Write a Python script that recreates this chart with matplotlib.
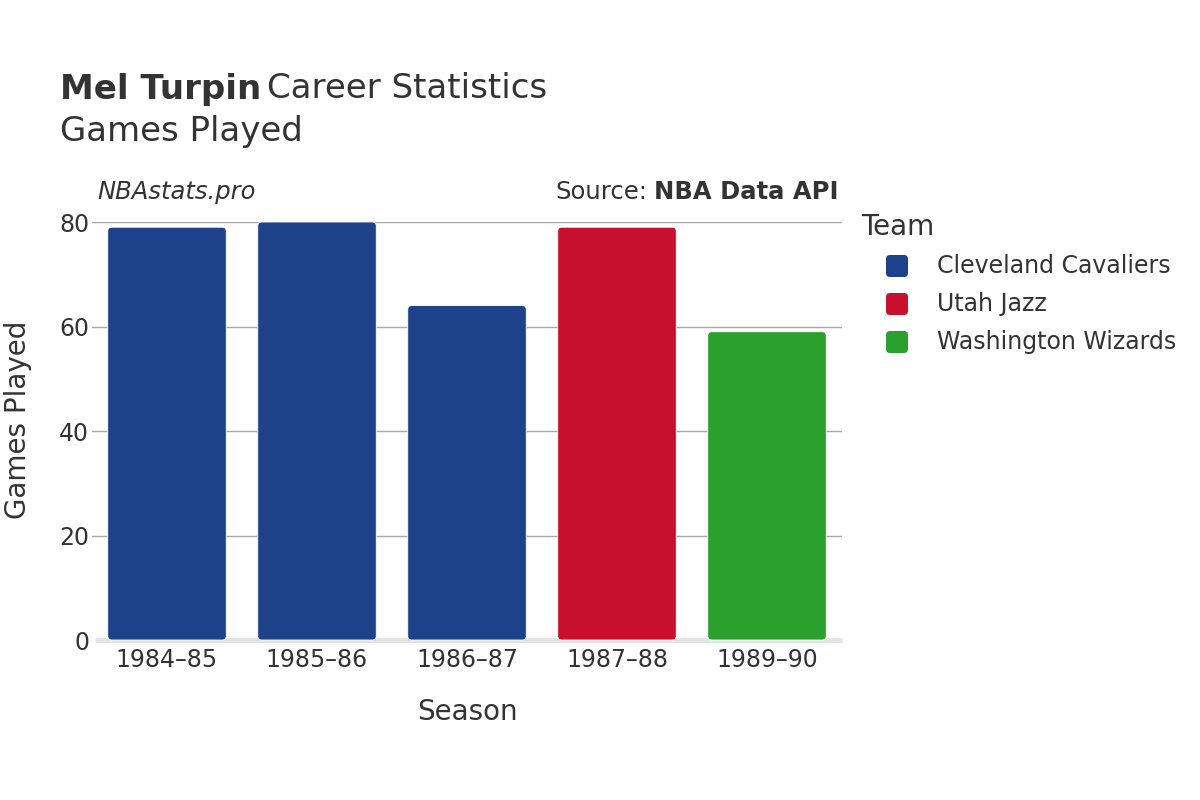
import matplotlib

matplotlib.use("Agg")
import matplotlib.pyplot as plt
from matplotlib.patches import FancyBboxPatch

seasons = ["1984–85", "1985–86", "1986–87", "1987–88", "1989–90"]
games = [79, 80, 64, 79, 59]
teams = ["Cleveland Cavaliers", "Cleveland Cavaliers", "Cleveland Cavaliers",
         "Utah Jazz", "Washington Wizards"]
team_order = ["Cleveland Cavaliers", "Utah Jazz", "Washington Wizards"]
team_colors = {"Cleveland Cavaliers": "#1d428a",
               "Utah Jazz": "#c8102e",
               "Washington Wizards": "#2ca02c"}
yticks = [0, 20, 40, 60, 80]

INK = "#333333"
GRID = "#a8a8a8"
ZERO = "#e4e4e4"

plt.rcParams.update({
    "font.family": ["DejaVu Sans"],
    "text.color": INK,
})

W, H = 1200, 800
fig = plt.figure(figsize=(12, 8), dpi=100)
L, R, B, T = 92, 842, 640, 222
ax = fig.add_axes([L / W, 1 - B / H, (R - L) / W, (B - T) / H])
ax.set_xlim(-0.5, len(seasons) - 0.5)
ax.set_ylim(0, 80)

# rounded top corners, corrected for the axes aspect
px_x = (R - L) / len(seasons)
px_y = (B - T) / 80
bw = 0.79
rad = 4 / px_x
for i, (g, t) in enumerate(zip(games, teams)):
    p = FancyBboxPatch((i - bw / 2, 0), bw, g,
                       boxstyle=f"round,pad=0,rounding_size={rad}",
                       mutation_aspect=px_x / px_y,
                       facecolor=team_colors[t], edgecolor="white",
                       linewidth=0.6, zorder=3, clip_on=False)
    ax.add_patch(p)

for v in yticks[1:]:
    ax.axhline(v, color=GRID, lw=1.0, zorder=1)
ax.plot([-0.48, len(seasons) - 0.5], [0, 0], color=ZERO, lw=3.5, zorder=2,
        clip_on=False, solid_capstyle="butt")

for s in ax.spines.values():
    s.set_visible(False)
ax.set_xticks(range(len(seasons)))
ax.set_xticklabels(seasons, fontsize=17, color=INK)
ax.set_yticks(yticks)
ax.set_yticklabels([str(v) for v in yticks], fontsize=17, color=INK)
ax.tick_params(axis="x", length=0, pad=6)
ax.tick_params(axis="y", length=0, pad=2)

fig.text(467 / W, 1 - 712 / H, "Season", fontsize=20, color=INK, ha="center", va="center")
fig.text(18 / W, 1 - 420 / H, "Games Played", fontsize=20, color=INK,
         ha="center", va="center", rotation=90)

# header
t1 = fig.text(60 / W, 1 - 89 / H, "Mel Turpin", fontsize=24.5, fontweight="bold",
              color=INK, ha="left", va="center")
fig.canvas.draw()
bb = t1.get_window_extent()
fig.text((bb.x1 + 6) / W, 1 - 89 / H, "Career Statistics", fontsize=24.5,
         color=INK, ha="left", va="center")
fig.text(60 / W, 1 - 132 / H, "Games Played", fontsize=24.5, color=INK,
         ha="left", va="center")

fig.text(97 / W, 1 - 192 / H, "NBAstats.pro", fontsize=17.5, style="italic",
         color=INK, ha="left", va="center")
s2 = fig.text(838 / W, 1 - 192 / H, "NBA Data API", fontsize=17.5, fontweight="bold",
              color=INK, ha="right", va="center")
fig.canvas.draw()
bb2 = s2.get_window_extent()
fig.text((bb2.x0 - 6) / W, 1 - 192 / H, "Source:", fontsize=17.5,
         color=INK, ha="right", va="center")

# legend
fig.text(861 / W, 1 - 227 / H, "Team", fontsize=20, color=INK, ha="left", va="center")
for k, name in enumerate(team_order):
    y = 266 + k * 38
    mk = FancyBboxPatch((886 / W, 1 - (y + 11) / H), 22 / W, 22 / H,
                        boxstyle=f"round,pad=0,rounding_size={4 / W}",
                        mutation_aspect=W / H,
                        transform=fig.transFigure, facecolor=team_colors[name],
                        edgecolor="none")
    fig.patches.append(mk)
    fig.text(937 / W, 1 - y / H, name, fontsize=17, color=INK, ha="left", va="center")

fig.savefig("out.png", dpi=100, facecolor="white")
